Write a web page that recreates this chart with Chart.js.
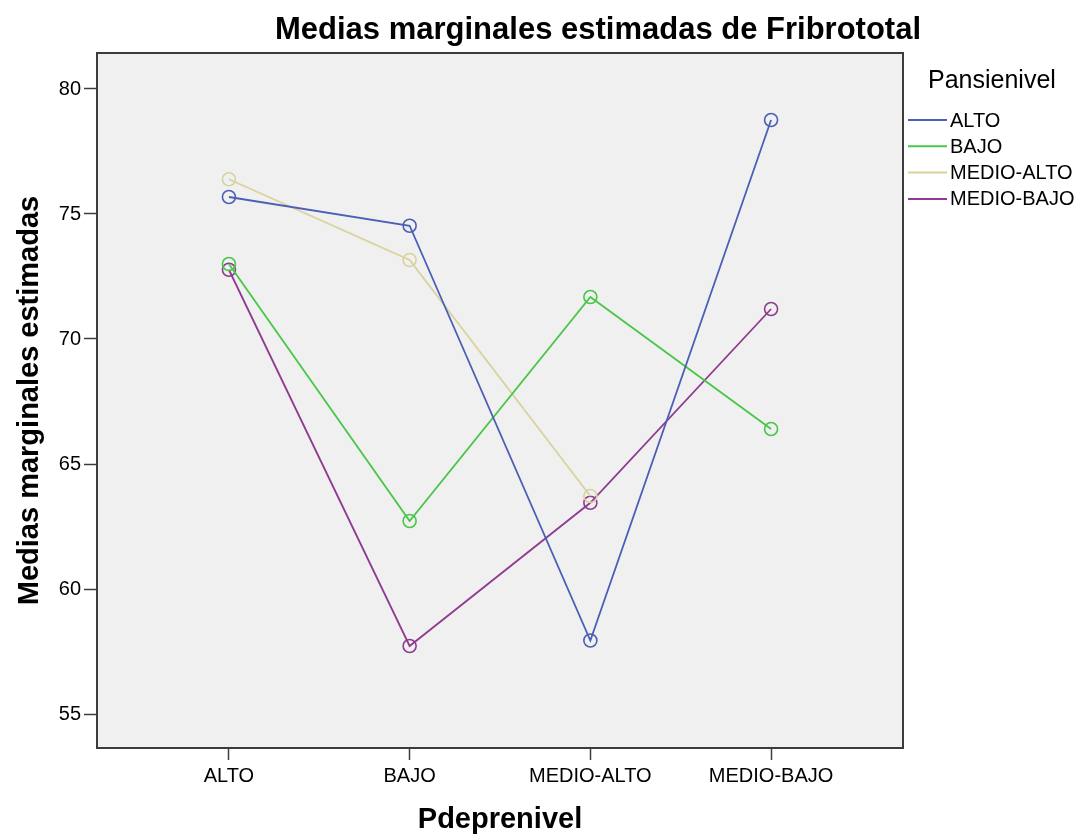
<!DOCTYPE html>
<html lang="es">
<head>
<meta charset="UTF-8">
<title>Medias marginales estimadas de Fribrototal</title>
<script src="https://cdn.jsdelivr.net/npm/chart.js@4.4.1/dist/chart.umd.min.js"></script>
<style>
    html, body { margin: 0; padding: 0; background: #ffffff; }
    #wrap { width: 1078px; height: 837px; position: relative; }
</style>
</head>
<body>
<div id="wrap"><canvas id="chart"></canvas></div>
<script>
// categories on the x axis (Pdeprenivel)
const categories = ['ALTO', 'BAJO', 'MEDIO-ALTO', 'MEDIO-BAJO'];
const yTicks = [55, 60, 65, 70, 75, 80];

// one series per Pansienivel level
const seriesNames = ['ALTO', 'BAJO', 'MEDIO-ALTO', 'MEDIO-BAJO'];
const alto      = [75.68, 74.53, 57.94, 78.76];
const bajo      = [73.00, 62.72, 71.68, 66.40];
const medioAlto = [76.39, 73.16, 63.72, null];
const medioBajo = [72.77, 57.72, 63.45, 71.20];

const colors = ['#4a5fb5', '#48c648', '#d8d39c', '#8f3b91'];
const font = '"Liberation Sans", Arial, sans-serif';

function toPoints(values) {
    return values.map((v, i) => ({ x: i, y: v }));
}

const datasets = [alto, bajo, medioAlto, medioBajo].map((vals, i) => ({
    label: seriesNames[i],
    data: toPoints(vals),
    borderColor: colors[i],
    backgroundColor: 'rgba(0,0,0,0)',
    borderWidth: 1.8,
    pointRadius: 6.5,
    pointBorderWidth: 1.6,
    pointBackgroundColor: 'rgba(0,0,0,0)',
    pointBorderColor: colors[i],
    tension: 0,
    spanGaps: false
}));

// grey plot area, frame, title and legend
const decor = {
    id: 'decor',
    beforeDatasetsDraw(chart) {
        const { ctx, chartArea: a } = chart;
        ctx.save();
        ctx.fillStyle = '#f0f0f0';
        ctx.fillRect(a.left, a.top, a.right - a.left, a.bottom - a.top);
        ctx.restore();
    },
    afterDraw(chart) {
        const { ctx, chartArea: a } = chart;
        ctx.save();
        ctx.strokeStyle = '#3c3c3c';
        ctx.lineWidth = 2;
        ctx.strokeRect(a.left, a.top, a.right - a.left, a.bottom - a.top);

        // main title
        ctx.fillStyle = '#000';
        ctx.font = 'bold 31px ' + font;
        ctx.textAlign = 'center';
        ctx.textBaseline = 'middle';
        ctx.fillText('Medias marginales estimadas de Fribrototal', 598, 30);

        // legend
        ctx.font = '25px ' + font;
        ctx.textAlign = 'left';
        ctx.fillText('Pansienivel', 928, 81);
        ctx.font = '20px ' + font;
        seriesNames.forEach((name, i) => {
            const y = 120 + i * 26.3;
            ctx.strokeStyle = colors[i];
            ctx.lineWidth = 2;
            ctx.beginPath();
            ctx.moveTo(908, y);
            ctx.lineTo(947, y);
            ctx.stroke();
            ctx.fillStyle = '#000';
            ctx.fillText(name, 950, y + 1);
        });
        ctx.restore();
    }
};

new Chart(document.getElementById('chart'), {
    type: 'line',
    data: { datasets },
    options: {
        responsive: true,
        maintainAspectRatio: false,
        animation: false,
        layout: { padding: { top: 53, right: 175, left: 0, bottom: 0 } },
        plugins: {
            legend: { display: false },
            tooltip: { enabled: false }
        },
        scales: {
            x: {
                type: 'linear',
                min: -0.73,
                max: 3.73,
                afterBuildTicks(scale) {
                    scale.ticks = categories.map((c, i) => ({ value: i }));
                },
                afterFit(scale) { scale.height = 89; },
                ticks: {
                    callback: (v) => categories[v],
                    color: '#000',
                    font: { family: font, size: 20 },
                    padding: 4,
                    maxRotation: 0,
                    autoSkip: false
                },
                grid: {
                    drawOnChartArea: false,
                    drawTicks: true,
                    tickLength: 12,
                    tickColor: '#3c3c3c',
                    tickWidth: 1.5
                },
                border: { display: true, color: '#3c3c3c', width: 2 },
                title: {
                    display: true,
                    text: 'Pdeprenivel',
                    color: '#000',
                    font: { family: font, size: 29, weight: 'bold' },
                    padding: { top: 0, bottom: 0 }
                }
            },
            y: {
                type: 'linear',
                min: 53.64,
                max: 81.44,
                afterBuildTicks(scale) {
                    scale.ticks = yTicks.map(v => ({ value: v }));
                },
                afterFit(scale) { scale.width = 97; },
                ticks: {
                    color: '#000',
                    font: { family: font, size: 20 },
                    padding: 3
                },
                grid: {
                    drawOnChartArea: false,
                    drawTicks: true,
                    tickLength: 13,
                    tickColor: '#3c3c3c',
                    tickWidth: 1.5
                },
                border: { display: true, color: '#3c3c3c', width: 2 },
                title: {
                    display: true,
                    text: 'Medias marginales estimadas',
                    color: '#000',
                    font: { family: font, size: 29, weight: 'bold' },
                    padding: { top: 13, bottom: 0 }
                }
            }
        }
    },
    plugins: [decor]
});
</script>
</body>
</html>
